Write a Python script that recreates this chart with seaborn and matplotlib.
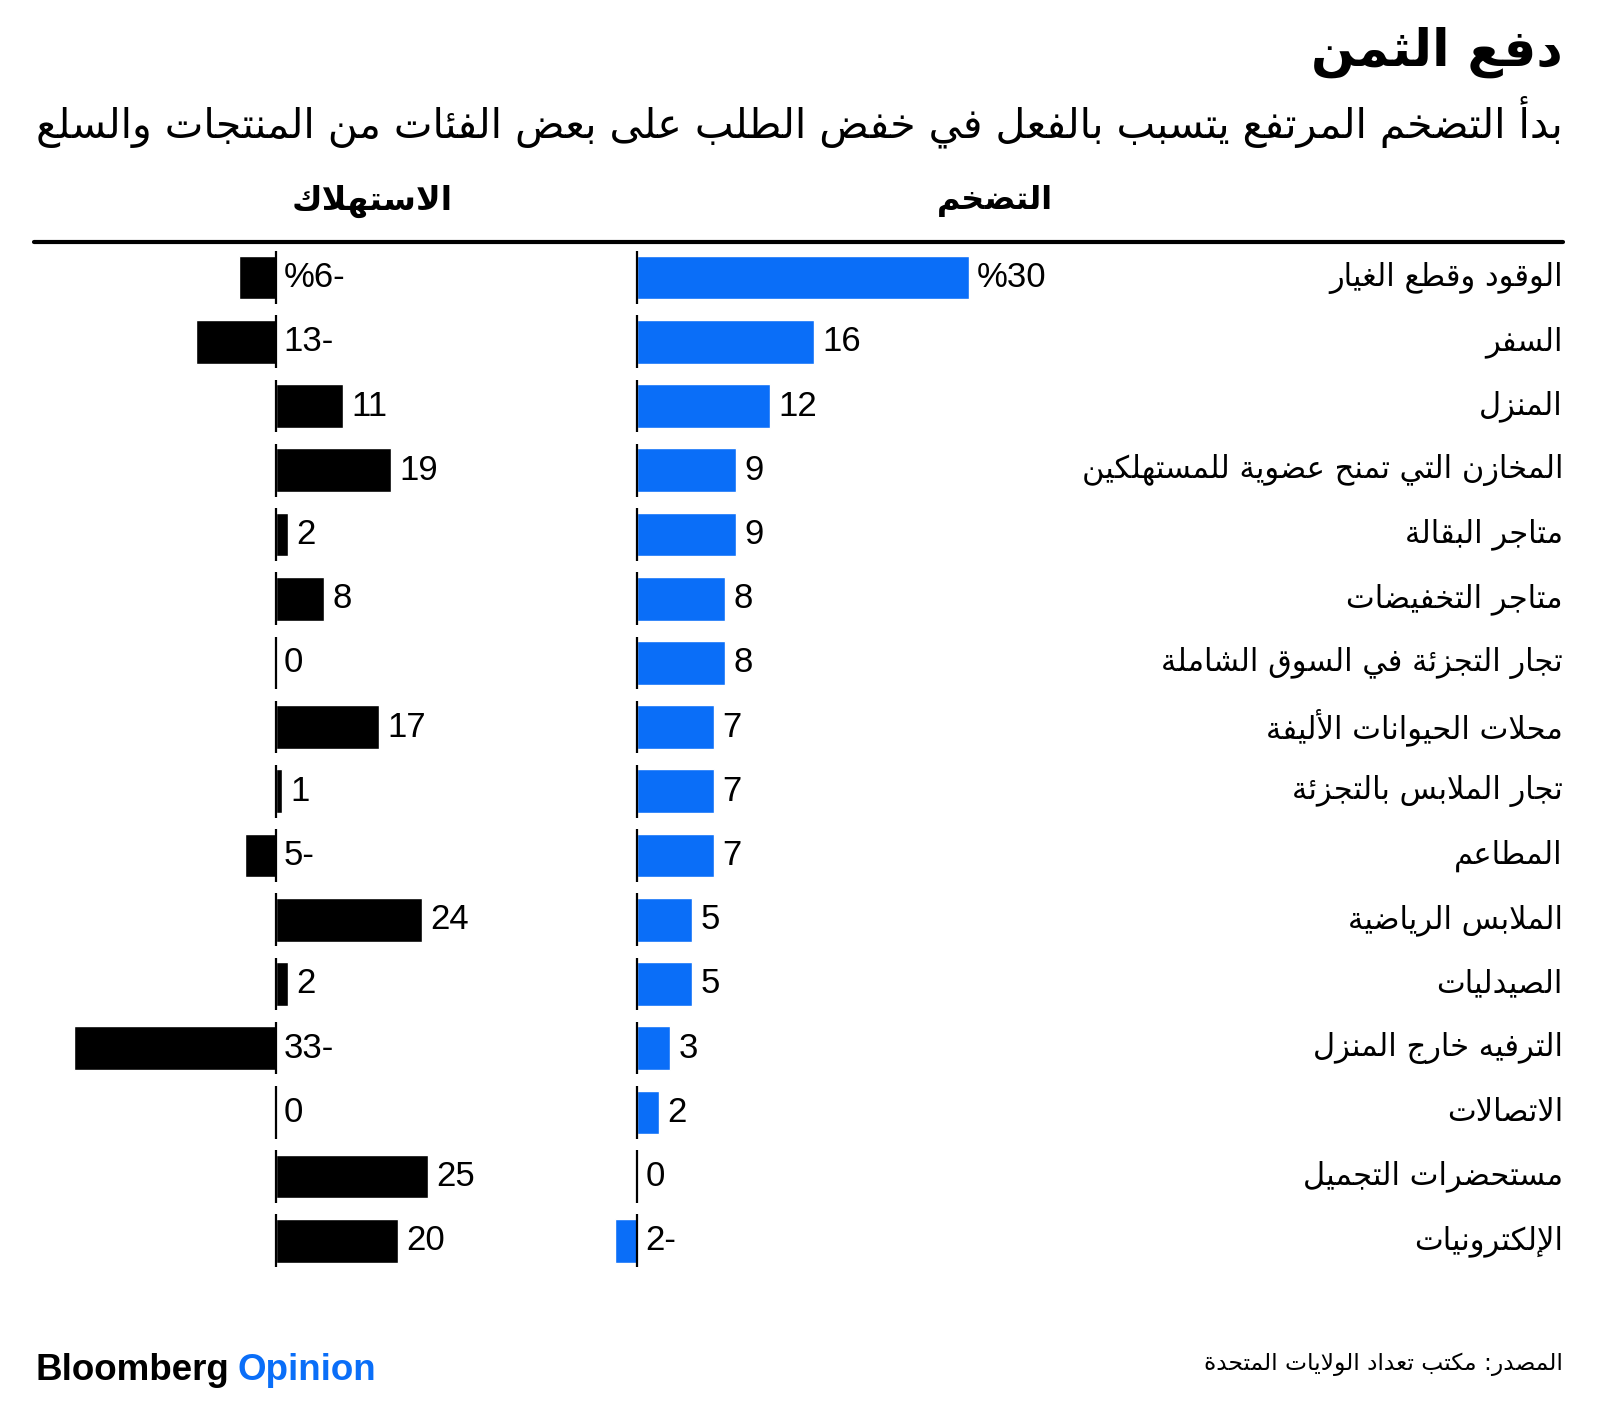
import numpy as np
import pandas as pd
import seaborn as sns
import matplotlib.pyplot as plt
from matplotlib.lines import Line2D
from matplotlib import transforms

# data, top row first
categories = [
    "الوقود وقطع الغيار",
    "السفر",
    "المنزل",
    "المخازن التي تمنح عضوية للمستهلكين",
    "متاجر البقالة",
    "متاجر التخفيضات",
    "تجار التجزئة في السوق الشاملة",
    "محلات الحيوانات الأليفة",
    "تجار الملابس بالتجزئة",
    "المطاعم",
    "الملابس الرياضية",
    "الصيدليات",
    "الترفيه خارج المنزل",
    "الاتصالات",
    "مستحضرات التجميل",
    "الإلكترونيات",
]
inflation = [30, 16, 12, 9, 9, 8, 8, 7, 7, 7, 5, 5, 3, 2, 0, -2]
consumption = [-6, -13, 11, 19, 2, 8, 0, 17, 1, -5, 24, 2, -33, 0, 25, 20]

title = "دفع الثمن"
subtitle = "بدأ التضخم المرتفع يتسبب بالفعل في خفض الطلب على بعض الفئات من المنتجات والسلع"
head_inflation = "التضخم"
head_consumption = "الاستهلاك"
source = "المصدر: مكتب تعداد الولايات المتحدة"

BLUE = "#0a6ef8"

# --- minimal arabic shaping (matplotlib has no complex text layout) ---
DUAL = {0x0626: 0xFE89, 0x0628: 0xFE8F, 0x062A: 0xFE95, 0x062B: 0xFE99, 0x062C: 0xFE9D,
        0x062D: 0xFEA1, 0x062E: 0xFEA5, 0x0633: 0xFEB1, 0x0634: 0xFEB5, 0x0635: 0xFEB9,
        0x0636: 0xFEBD, 0x0637: 0xFEC1, 0x0638: 0xFEC5, 0x0639: 0xFEC9, 0x063A: 0xFECD,
        0x0641: 0xFED1, 0x0642: 0xFED5, 0x0643: 0xFED9, 0x0644: 0xFEDD, 0x0645: 0xFEE1,
        0x0646: 0xFEE5, 0x0647: 0xFEE9, 0x064A: 0xFEF1}
RIGHT = {0x0622: 0xFE81, 0x0623: 0xFE83, 0x0624: 0xFE85, 0x0625: 0xFE87, 0x0627: 0xFE8D,
         0x0629: 0xFE93, 0x062F: 0xFEA9, 0x0630: 0xFEAB, 0x0631: 0xFEAD, 0x0632: 0xFEAF,
         0x0648: 0xFEED, 0x0649: 0xFEEF}
LAM_ALEF = {0x0622: 0xFEF5, 0x0623: 0xFEF7, 0x0625: 0xFEF9, 0x0627: 0xFEFB}


def ar(text):
    units = []
    i = 0
    while i < len(text):
        c = ord(text[i])
        if c == 0x0644 and i + 1 < len(text) and ord(text[i + 1]) in LAM_ALEF:
            units.append((LAM_ALEF[ord(text[i + 1])], 'R'))
            i += 2
            continue
        if c in DUAL:
            units.append((DUAL[c], 'D'))
        elif c in RIGHT:
            units.append((RIGHT[c], 'R'))
        else:
            units.append((c, None))
        i += 1
    out = []
    for k, (code, kind) in enumerate(units):
        if kind is None:
            out.append(chr(code))
            continue
        prev = units[k - 1][1] if k > 0 else None
        nxt = units[k + 1][1] if k + 1 < len(units) else None
        jp = prev == 'D'
        jn = kind == 'D' and nxt in ('D', 'R')
        if kind == 'R':
            form = 1 if jp else 0
        else:
            form = 3 if (jp and jn) else 1 if jp else 2 if jn else 0
        out.append(chr(code + form))
    return ''.join(out)[::-1]


def num_label(v, first):
    s = str(abs(v)) + ("-" if v < 0 else "")
    return ("%" + s) if first else s


df = pd.DataFrame({"category": categories, "inflation": inflation, "consumption": consumption})
idx = np.arange(len(categories))

sns.set_style("white")
plt.rcParams['font.family'] = ['DejaVu Sans']
plt.rcParams['text.color'] = 'black'

W, H = 1600, 1405
fig = plt.figure(figsize=(16, 14.05), dpi=100)

# row geometry in pixels
top_px, bot_px = 245.5, 1272.9
ay = 1 - bot_px / H
ah = (bot_px - top_px) / H

# inflation axis: zero at x=637, 11.05 px per unit
inf_lim = (-5, 35)
ax1 = fig.add_axes([(637 + inf_lim[0] * 11.05) / W, ay, (inf_lim[1] - inf_lim[0]) * 11.05 / W, ah])
# consumption axis: zero at x=275.5, 6.1 px per unit
con_lim = (-35, 30)
ax2 = fig.add_axes([(275.5 + con_lim[0] * 6.1) / W, ay, (con_lim[1] - con_lim[0]) * 6.1 / W, ah])

for ax, col, color, lim in [(ax1, "inflation", BLUE, inf_lim), (ax2, "consumption", "black", con_lim)]:
    sns.barplot(data=df, x=col, y="category", color=color, width=0.68,
                orient="h", saturation=1, ax=ax)
    ax.vlines(np.zeros(len(idx)), idx - 0.41, idx + 0.41, color="black", lw=1.6)
    ax.set_xlim(*lim)
    ax.set_ylim(len(categories) - 0.5, -0.5)
    ax.set_axis_off()
    for i, v in enumerate(df[col]):
        ax.annotate(num_label(v, i == 0), xy=(max(v, 0), i), xytext=(6, 0),
                    textcoords="offset points", ha="left", va="center",
                    fontsize=25, family="Liberation Sans", color="black")

# category labels on the right
tr = transforms.blended_transform_factory(fig.transFigure, ax1.transData)
for i, c in enumerate(categories):
    ax1.text(1563 / W, i, ar(c), transform=tr, ha="right", va="center",
             fontsize=22, color="black")

# titles
fig.text(1563 / W, 1 - 52 / H, ar(title), ha="right", va="center",
         fontsize=37, fontweight="bold")
fig.text(1563 / W, 1 - 122 / H, ar(subtitle), ha="right", va="center",
         fontsize=29.5, color="black")
fig.text(995 / W, 1 - 201 / H, ar(head_inflation), ha="center", va="center",
         fontsize=23, fontweight="bold")
fig.text(372 / W, 1 - 201 / H, ar(head_consumption), ha="center", va="center",
         fontsize=24, fontweight="bold")
fig.add_artist(Line2D([34 / W, 1563 / W], [1 - 242 / H] * 2, lw=3, color="black"))

# footer
fig.text(1563 / W, 1 - 1364 / H, ar(source), ha="right", va="center",
         fontsize=16.8, color="black")
t = fig.text(35 / W, 1 - 1370 / H, "Bloomberg", ha="left", va="center",
             fontsize=26.5, fontweight="bold", family="Liberation Sans")
fig.canvas.draw()
bb = t.get_window_extent(fig.canvas.get_renderer())
fig.text((bb.x1 + 9) / W, 1 - 1370 / H, "Opinion", ha="left", va="center",
         fontsize=26.5, fontweight="bold", family="Liberation Sans", color=BLUE)

fig.savefig("out.png", dpi=100, facecolor="white")
